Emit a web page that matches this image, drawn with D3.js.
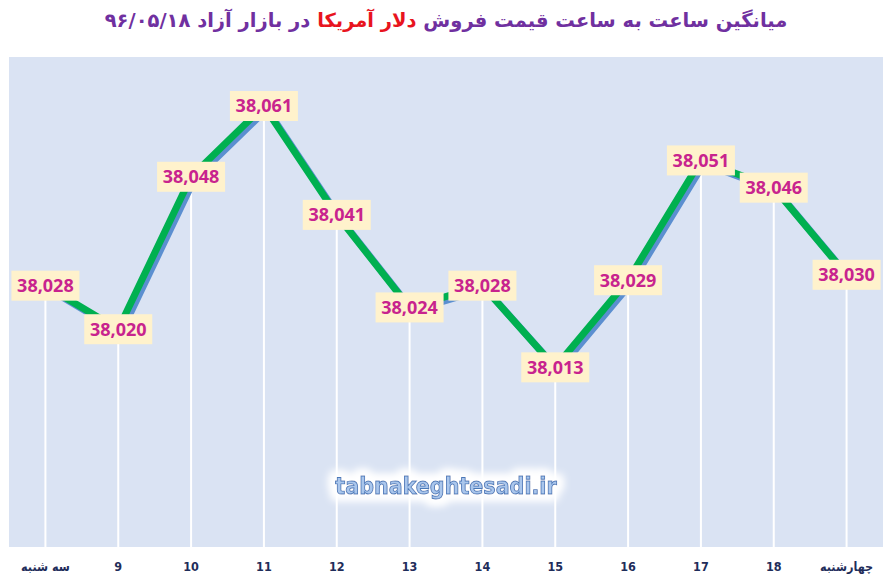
<!DOCTYPE html>
<html>
<head>
<meta charset="utf-8">
<script src="https://cdn.jsdelivr.net/npm/d3@7"></script>
<style>
  body { margin: 0; background: #fff; }
</style>
</head>
<body>
<svg id="chart" width="892" height="584"></svg>
<script>
const hours = ["سه شنبه", "9", "10", "11", "12", "13", "14", "15", "16", "17", "18", "چهارشنبه"];
const prices = [38028, 38020, 38048, 38061, 38041, 38024, 38028, 38013, 38029, 38051, 38046, 38030];
const yDomain = [37980, 38070];

const svg = d3.select("#chart");
const plot = { left: 9, right: 883, top: 57, bottom: 547 };

const x = d3.scaleBand()
    .domain(hours)
    .range([plot.left, plot.right]);

const y = d3.scaleLinear()
    .domain(yDomain)
    .range([plot.bottom, plot.top]);

const cx = d => x(d) + x.bandwidth() / 2;
const data = hours.map((h, i) => ({ hour: h, price: prices[i] }));

// glow filter for the watermark
const defs = svg.append("defs");
const glow = defs.append("filter").attr("id", "glow")
    .attr("x", "-20%").attr("y", "-80%").attr("width", "140%").attr("height", "260%");
glow.append("feMorphology").attr("in", "SourceAlpha").attr("operator", "dilate").attr("radius", 5).attr("result", "d");
glow.append("feGaussianBlur").attr("in", "d").attr("stdDeviation", 4).attr("result", "b");
glow.append("feFlood").attr("flood-color", "#ffffff");
glow.append("feComposite").attr("in2", "b").attr("operator", "in").attr("result", "w");
const merge = glow.append("feMerge");
merge.append("feMergeNode").attr("in", "w");
merge.append("feMergeNode").attr("in", "w");
merge.append("feMergeNode").attr("in", "SourceGraphic");

// title
const title = svg.append("text")
    .attr("x", 446)
    .attr("y", 27)
    .attr("text-anchor", "middle")
    .attr("direction", "rtl")
    .style("font-family", "'DejaVu Sans', sans-serif")
    .style("font-weight", "bold")
    .style("font-size", "19.5px")
    .style("fill", "#7030a0");
title.append("tspan").text("میانگین ساعت به ساعت قیمت فروش ");
title.append("tspan").style("fill", "#e8141e").text("دلار آمریکا");
title.append("tspan").text(" در بازار آزاد ۹۶/۰۵/۱۸");

// plot background
svg.append("rect")
    .attr("x", plot.left)
    .attr("y", plot.top)
    .attr("width", plot.right - plot.left)
    .attr("height", plot.bottom - plot.top)
    .attr("fill", "#dae3f3");

// drop lines
svg.selectAll(".drop")
  .data(data)
  .enter()
  .append("line")
  .attr("class", "drop")
  .attr("x1", d => cx(d.hour))
  .attr("x2", d => cx(d.hour))
  .attr("y1", d => y(d.price))
  .attr("y2", plot.bottom)
  .attr("stroke", "#ffffff")
  .attr("stroke-width", 2);

// watermark
svg.append("text")
    .attr("x", 446)
    .attr("y", 494)
    .attr("text-anchor", "middle")
    .attr("filter", "url(#glow)")
    .style("font-family", "'DejaVu Sans Condensed', 'DejaVu Sans', sans-serif")
    .style("font-weight", "bold")
    .style("font-size", "23px")
    .style("fill", "#aac6ec")
    .style("stroke", "#4a78b8")
    .style("stroke-width", 0.9)
    .text("tabnakeghtesadi.ir");

const line = d3.line()
    .x(d => cx(d.hour))
    .y(d => y(d.price));

// shadow line
svg.append("path")
    .datum(data)
    .attr("d", line)
    .attr("transform", "translate(3,3)")
    .attr("fill", "none")
    .attr("stroke", "#5b8fd0")
    .attr("stroke-width", 7);

svg.append("path")
    .datum(data)
    .attr("d", line)
    .attr("fill", "none")
    .attr("stroke", "#00b050")
    .attr("stroke-width", 7);

// value labels
const labels = svg.selectAll(".label")
  .data(data)
  .enter()
  .append("g")
  .attr("class", "label")
  .attr("transform", d => `translate(${cx(d.hour)},${y(d.price)})`);

labels.append("rect")
  .attr("x", -34)
  .attr("y", -15)
  .attr("width", 68)
  .attr("height", 30)
  .attr("fill", "#fff2cc");

labels.append("text")
  .attr("text-anchor", "middle")
  .attr("dy", "0.36em")
  .style("font-family", "'Noto Sans', sans-serif")
  .style("font-weight", "bold")
  .style("font-size", "18px")
  .style("fill", "#c8238e")
  .text(d => d3.format(",")(d.price));

// x labels
svg.selectAll(".xlabel")
  .data(hours)
  .enter()
  .append("text")
  .attr("class", "xlabel")
  .attr("x", d => cx(d))
  .attr("y", 571)
  .attr("text-anchor", "middle")
  .style("font-family", "'DejaVu Sans Condensed', 'DejaVu Sans', sans-serif")
  .style("font-weight", "bold")
  .style("font-size", "12.5px")
  .style("fill", "#1f2d5a")
  .text(d => d);
</script>
</body>
</html>
